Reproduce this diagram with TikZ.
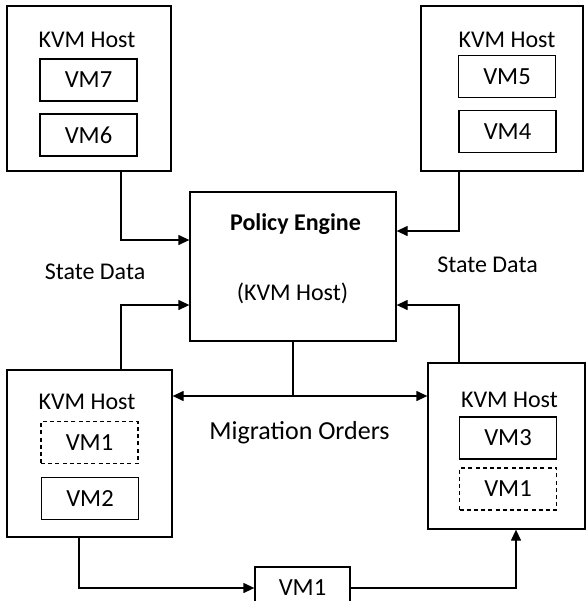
\documentclass[tikz,border=0pt]{standalone}
\usepackage{fontspec}
\setmainfont{Carlito}
\usetikzlibrary{arrows.meta,positioning,calc}

\begin{document}
\begin{tikzpicture}[
    x=0.5pt, y=-0.5pt,
    host/.style={
        rectangle, draw, inner sep=0pt,
        minimum width=82pt, minimum height=83pt
    },
    vm/.style={
        rectangle, draw, inner sep=0pt,
        minimum width=48.5pt, minimum height=21pt,
        font=\fontsize{12.3pt}{14pt}\selectfont
    },
    vmgone/.style={vm, dash pattern=on 2pt off 1.6pt},
    engine/.style={
        rectangle, draw, inner sep=0pt,
        minimum width=103pt, minimum height=74.5pt
    },
    etiqueta/.style={font=\fontsize{12pt}{14pt}\selectfont, inner sep=0pt},
    seta/.style={-{Triangle[length=5.5pt,width=5pt]}, line width=0.65pt}
]
\useasboundingbox (0,0) rectangle (587,601);
\tikzset{every path/.style={line width=0.65pt}}

% Hosts
\node[host, minimum width=82pt, minimum height=82.5pt] (tl) at (89,88.5) {};
\node[host, minimum width=81pt, minimum height=82.5pt] (tr) at (502,88.5) {};
\node[host, minimum width=82.5pt, minimum height=83.5pt] (bl) at (89.5,453.5) {};
\node[host, minimum width=78.5pt, minimum height=83pt] (br) at (506.5,446) {};
\node[engine] (pe) at (293,266.5) {};

% Host labels
\node[etiqueta] (tlname) at (87,40) {KVM Host};
\node[etiqueta] (trname) at (507,40) {KVM Host};
\node[etiqueta] (blname) at (87,402) {KVM Host};
\node[etiqueta] (brname) at (509.5,400) {KVM Host};
\node[etiqueta, font=\fontsize{12pt}{14pt}\selectfont\bfseries] (petitle) at (295.5,224) {Policy Engine};
\node[etiqueta] (pehost) at (292.5,293) {(KVM Host)};

% VMs
\node[vm] (vm7) at (88.5,80) {VM7};
\node[vm] (vm6) at (88.5,135) {VM6};
\node[vm] (vm5) at (507,76.5) {VM5};
\node[vm] (vm4) at (507.5,131.5) {VM4};
\node[vmgone] (vm1old) at (89.5,442.5) {VM1};
\node[vm] (vm2) at (90,498.5) {VM2};
\node[vm] (vm3) at (508,438) {VM3};
\node[vmgone] (vm1new) at (508,489) {VM1};
\node[vm, minimum width=47.5pt] (mv) at (302.5,588) {VM1};

% Labels
\node[etiqueta] (sdleft) at (95,272) {State Data};
\node[etiqueta] (sdright) at (487.5,265) {State Data};
\node[etiqueta, font=\fontsize{13pt}{15pt}\selectfont] (orders) at (299.5,433) {Migration Orders};

% Connections
\draw[seta] ([xshift=16pt]tl.south) |- ([yshift=13.25pt]pe.west);
\draw[seta] ([xshift=-21.5pt]tr.south) |- ([yshift=17.75pt]pe.east);
\draw[seta] ([xshift=15.75pt]bl.north) |- ([yshift=-19.25pt]pe.west);
\draw[seta] ([xshift=-23.75pt]br.north) |- ([yshift=-19.25pt]pe.east);

\coordinate (mig) at (293,396);
\draw (pe.south) -- (mig);
\draw[seta] (mig) -- (mig -| bl.east);
\draw[seta] (mig) -- (mig -| br.west);

\draw[seta] ([xshift=-5.25pt]bl.south) |- (mv.west);
\draw[seta] (mv.east) -| ([xshift=4.75pt]br.south);

\end{tikzpicture}
\end{document}
